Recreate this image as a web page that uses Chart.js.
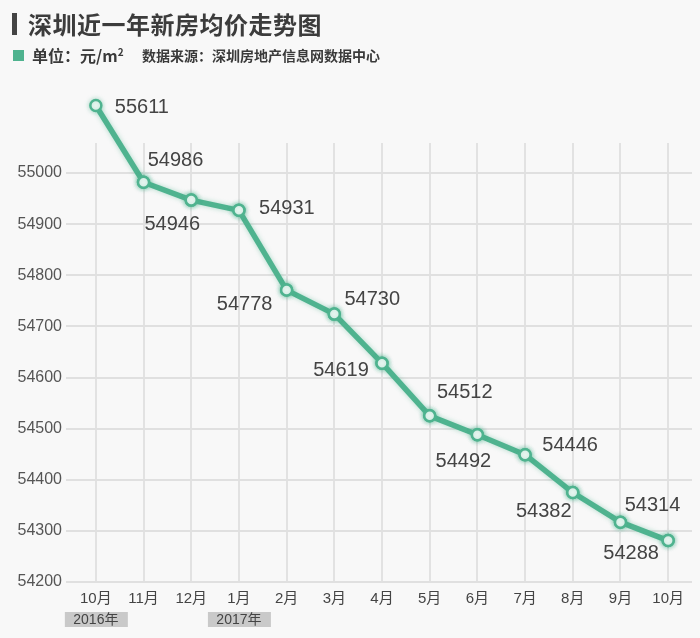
<!DOCTYPE html>
<html>
<head>
<meta charset="utf-8">
<script src="https://cdn.jsdelivr.net/npm/chart.js@4.4.1/dist/chart.umd.min.js"></script>
<style>
  html, body { margin: 0; padding: 0; background: #f8f8f8; }
  #wrap { position: relative; width: 700px; height: 638px; overflow: hidden; }
  canvas { position: absolute; left: 0; top: 0; }
  .bar { position: absolute; left: 12px; top: 13px; width: 5px; height: 22px; background: #444; }
  .title { position: absolute; left: 28px; top: 11px; font: bold 24px "Noto Sans CJK SC", sans-serif; line-height: 26px; color: #3c3c3c; letter-spacing: 0.5px; white-space: nowrap; }
  .sq { position: absolute; left: 13px; top: 50px; width: 11px; height: 11px; background: #4fb38f; }
  .unit { position: absolute; left: 32px; top: 45px; font: bold 16px "Noto Sans CJK SC", sans-serif; line-height: 20px; color: #3a3a3a; white-space: nowrap; }
  .unit sup { font-size: 10px; vertical-align: 6px; line-height: 0; }
  .src { position: absolute; left: 142px; top: 46px; font: bold 14px "Noto Sans CJK SC", sans-serif; line-height: 18px; color: #3a3a3a; white-space: nowrap; }
</style>
</head>
<body>
<div id="wrap">
  <canvas id="c" width="700" height="638"></canvas>
  <div class="bar"></div>
  <div class="title">深圳近一年新房均价走势图</div>
  <div class="sq"></div>
  <div class="unit">单位：元/m<sup>2</sup></div>
  <div class="src">数据来源：深圳房地产信息网数据中心</div>
</div>
<script>
// ---- data ----
const months = ['10月','11月','12月','1月','2月','3月','4月','5月','6月','7月','8月','9月','10月'];
const years = ['2016年','','','2017年','','','','','','','','',''];
// printed value labels
const priceLabels = ['55611','54986','54946','54931','54778','54730','54619','54512','54492','54446','54382','54314','54288'];
// plotted positions
const plotted = [55132, 54982, 54947, 54927, 54771, 54724, 54628, 54525, 54488, 54449, 54375, 54317, 54281];

// label placement (pixel offsets from each point)
const labelOffsets = [[46,2],[32,-22],[-19,24],[48,-2],[-42,14],[38,-15],[-41,7],[35,-23],[-14,27],[45,-9],[-29,19],[32,-17],[-37,13]];

const GREEN = '#4fb38f';

const glowPlugin = {
  id: 'glow',
  beforeDatasetDraw(chart) {
    const ctx = chart.ctx;
    ctx.save();
    ctx.shadowColor = 'rgba(79,179,143,0.45)';
    ctx.shadowBlur = 5;
  },
  afterDatasetDraw(chart, args) {
    const ctx = chart.ctx;
    // draw every point marker, including the one above the plot area
    const full = { left: 0, top: 0, right: chart.width, bottom: chart.height };
    args.meta.data.forEach(p => p.draw(ctx, full));
    ctx.restore();
  }
};

const labelPlugin = {
  id: 'valueLabels',
  afterDatasetsDraw(chart) {
    const ctx = chart.ctx;
    const meta = chart.getDatasetMeta(0);
    ctx.save();
    ctx.font = '20px "Liberation Sans", Arial, sans-serif';
    ctx.fillStyle = '#444';
    ctx.textAlign = 'center';
    ctx.textBaseline = 'middle';
    meta.data.forEach((pt, i) => {
      const o = labelOffsets[i];
      ctx.fillText(priceLabels[i], pt.x + o[0], pt.y + o[1]);
    });
    ctx.restore();
  }
};

const yearPlugin = {
  id: 'years',
  afterDraw(chart) {
    const ctx = chart.ctx;
    const xs = chart.scales.x;
    const yc = chart.chartArea.bottom + 37;
    ctx.save();
    ctx.font = '14px "Liberation Sans", "Noto Sans CJK SC", sans-serif';
    ctx.textAlign = 'center';
    ctx.textBaseline = 'middle';
    years.forEach((t, i) => {
      if (!t) return;
      const x = xs.getPixelForValue(i);
      ctx.fillStyle = '#c9c9c9';
      ctx.fillRect(x - 31, yc - 7, 63, 15);
      ctx.fillStyle = '#444';
      ctx.fillText(t, x, yc + 1);
    });
    ctx.restore();
  }
};

new Chart(document.getElementById('c'), {
  type: 'line',
  data: {
    labels: months,
    datasets: [{
      data: plotted,
      borderColor: GREEN,
      borderWidth: 5.5,
      pointRadius: 5.5,
      pointHoverRadius: 5.5,
      pointBorderWidth: 2.5,
      pointBackgroundColor: '#f6fcfa',
      pointBorderColor: GREEN,
      tension: 0,
      clip: false,
      borderJoinStyle: 'round',
      borderCapStyle: 'round'
    }]
  },
  options: {
    responsive: false,
    animation: false,
    events: [],
    layout: { padding: { top: 143, right: 1, left: 0, bottom: 0 } },
    plugins: { legend: { display: false }, tooltip: { enabled: false }, title: { display: false } },
    scales: {
      x: {
        offset: true,
        afterFit(s) { s.height = 56; },
        border: { display: false },
        grid: { offset: false, color: '#e2e2e2', lineWidth: 2, drawTicks: false },
        ticks: {
          autoSkip: false, maxRotation: 0, padding: 8,
          color: '#444',
          font: { size: 15, family: '"Liberation Sans", "Noto Sans CJK SC", sans-serif' }
        }
      },
      y: {
        min: 54200,
        max: 55058.7,
        afterFit(s) { s.width = 72; },
        border: { display: false },
        grid: { color: '#e0e0e0', lineWidth: 2, drawTicks: true, tickLength: 6 },
        ticks: {
          stepSize: 100, includeBounds: false, padding: 4,
          color: '#555',
          font: { size: 16, family: '"Liberation Sans", Arial, sans-serif' },
          callback: v => String(v)
        }
      }
    }
  },
  plugins: [glowPlugin, labelPlugin, yearPlugin]
});
</script>
</body>
</html>
